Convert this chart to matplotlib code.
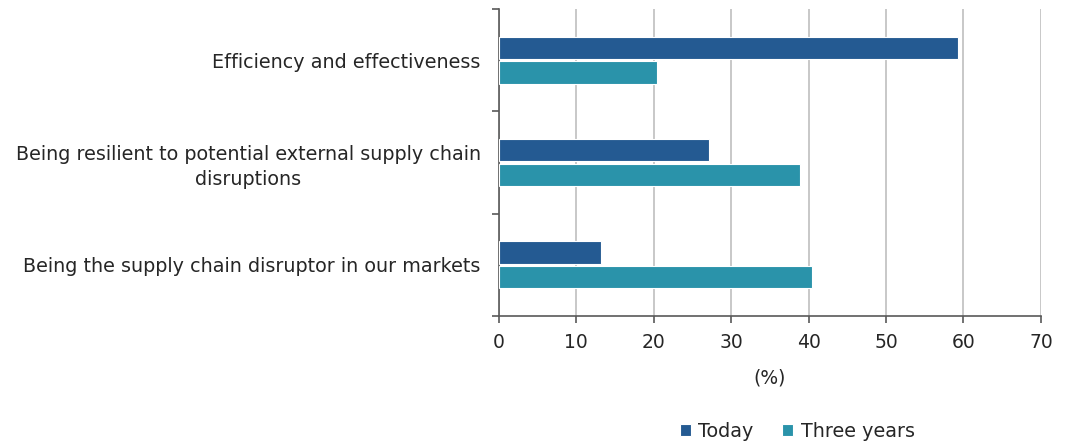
import numpy as np
import matplotlib
matplotlib.use('Agg')
import matplotlib.pyplot as plt

categories = ['Efficiency and effectiveness',
              'Being resilient to potential external supply chain\ndisruptions',
              'Being the supply chain disruptor in our markets']
today = [59.3, 27.1, 13.2]
three_years = [20.4, 38.9, 40.5]
series_names = ['Today', 'Three years']
x_ticks = [0, 10, 20, 30, 40, 50, 60, 70]

c_today = '#245a92'
c_three = '#2a93aa'
txt = '#262626'

plt.rcParams['font.family'] = 'DejaVu Sans'

fig = plt.figure(figsize=(10.82, 4.47), dpi=100)
ax = fig.add_axes([0.461, 0.293, 0.501, 0.687])

y = np.arange(len(categories))
h = 0.22
ax.barh(y - 0.12, today, height=h, color=c_today, edgecolor='white', linewidth=0.8, label=series_names[0], zorder=3)
ax.barh(y + 0.12, three_years, height=h, color=c_three, edgecolor='white', linewidth=0.8, label=series_names[1], zorder=3)

ax.set_ylim(len(categories) - 0.5, -0.5)
ax.set_xlim(0, 70)
ax.set_xticks(x_ticks)
ax.set_xticklabels([str(t) for t in x_ticks], fontsize=13.5, color=txt)
ax.set_yticks(y)
ax.set_yticklabels(categories, fontsize=13.8, color=txt, ha='right', multialignment='center',
                   linespacing=1.35)
ax.tick_params(axis='y', which='major', length=0, pad=13)
ax.set_yticks(np.arange(-0.5, len(categories)), minor=True)
ax.tick_params(axis='y', which='minor', length=5, color='#595959', width=1.2)
ax.tick_params(axis='x', length=5, color='#595959', width=1.2, pad=7)

ax.grid(axis='x', color='#bfbfbf', linewidth=1.2, zorder=0)
for s in ['top', 'right']:
    ax.spines[s].set_visible(False)
for s in ['left', 'bottom']:
    ax.spines[s].set_color('#595959')
    ax.spines[s].set_linewidth(1.2)

ax.set_xlabel('(%)', fontsize=13.5, color=txt, labelpad=12)

fig.legend(loc='lower center', bbox_to_anchor=(0.737, -0.025), ncol=2, frameon=False,
           fontsize=13.8, handlelength=0.55, handleheight=0.55, handletextpad=0.4,
           columnspacing=1.5, labelcolor=txt)

fig.savefig('out.png', dpi=100)
